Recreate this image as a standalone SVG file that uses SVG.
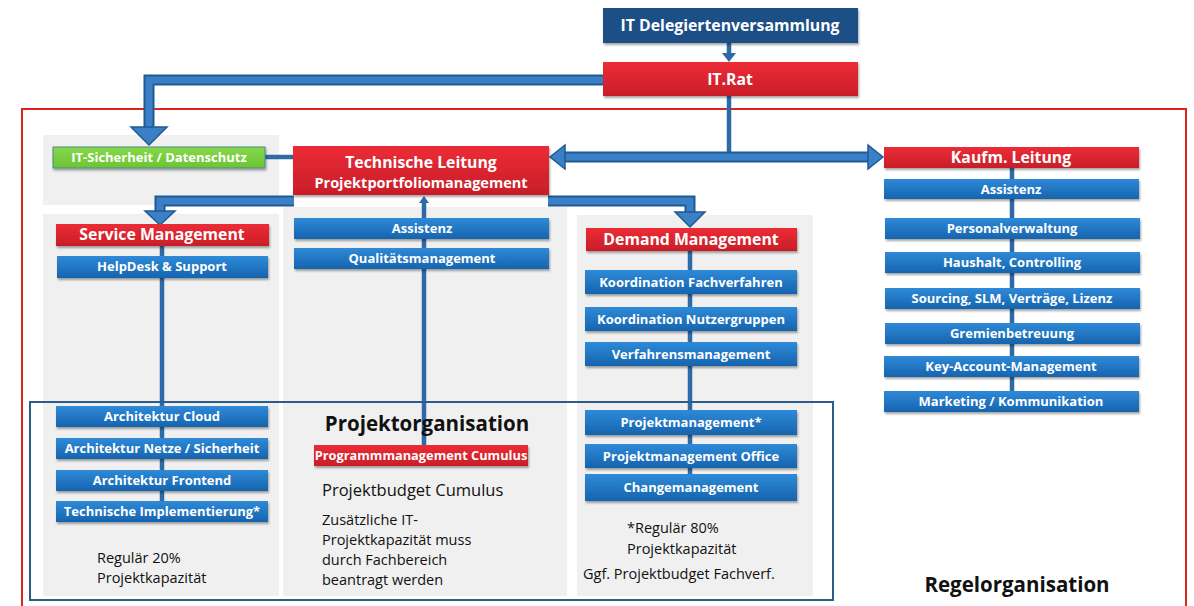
<svg xmlns="http://www.w3.org/2000/svg" width="1194" height="606" viewBox="0 0 1194 606">
<defs>
<linearGradient id="gb" x1="0" y1="0" x2="0" y2="1"><stop offset="0" stop-color="#2f8ad8"/><stop offset="1" stop-color="#1664ae"/></linearGradient>
<linearGradient id="gr" x1="0" y1="0" x2="0" y2="1"><stop offset="0" stop-color="#ec2c36"/><stop offset="1" stop-color="#c81e28"/></linearGradient>
<linearGradient id="gg" x1="0" y1="0" x2="0" y2="1"><stop offset="0" stop-color="#86d84a"/><stop offset="1" stop-color="#6cc433"/></linearGradient>
<filter id="sh" x="-5%" y="-20%" width="110%" height="150%"><feDropShadow dx="1" dy="2" stdDeviation="1.2" flood-color="#000" flood-opacity="0.35"/></filter>
</defs>
<style>
.panel{fill:#f0f0f0}
.bb{fill:url(#gb);filter:url(#sh)}
.rb{fill:url(#gr);filter:url(#sh)}
.t{font-family:"Open Sans","Noto Sans",sans-serif;font-weight:bold;fill:#fff;text-anchor:middle;font-size:13px}
.tl{font-size:15.8px}
.n{font-family:"Open Sans","Noto Sans",sans-serif;fill:#111;font-size:14.5px}
.h{font-family:"Open Sans","Noto Sans",sans-serif;font-weight:bold;fill:#111;font-size:20.5px;text-anchor:middle}
.thin{stroke:#2e6aa6;stroke-width:4.5;fill:none}
.fo{stroke:#1f5a94;stroke-width:11;fill:none}
.fi{stroke:#3b80c6;stroke-width:7;fill:none}
.ah{fill:#3b80c6;stroke:#1f5a94;stroke-width:1.5}
</style>
<rect x="0" y="0" width="1194" height="606" fill="#fff"/>

<g id="panels">
<rect class="panel" x="43" y="135" width="236" height="70"/>
<rect class="panel" x="43" y="214" width="236" height="382"/>
<rect class="panel" x="283" y="207" width="284" height="389"/>
<rect class="panel" x="577" y="215" width="236" height="381"/>
</g>

<rect id="regelorganisation-frame" x="22" y="109" width="1164" height="500" fill="none" stroke="#d9261c" stroke-width="2"/>

<g id="connectors">
<path class="thin" d="M729 96 V152"/>
<path class="thin" d="M162 245 V505"/>
<path class="thin" d="M424 200 V447"/>
<path class="thin" d="M690 250 V476"/>
<path class="thin" d="M1012 167 V393"/>
<path class="thin" d="M265 157 H295"/>
<path class="thin" d="M729 43 V54"/>
<polygon fill="#2e6aa6" points="722,53 736,53 729,62"/>
<polygon fill="#2e6aa6" points="419,203 429,203 424,196"/>
<path class="fo" d="M604 80 H149 V128"/>
<path class="fi" d="M604 80 H149 V128"/>
<polygon class="ah" points="131,127 167,127 149,145"/>
<path class="fo" d="M294 201 H160 V212"/>
<path class="fi" d="M294 201 H160 V212"/>
<polygon class="ah" points="145,211 175,211 160,225"/>
<path class="fo" d="M548 201 H690 V213"/>
<path class="fi" d="M548 201 H690 V213"/>
<polygon class="ah" points="675,212 705,212 690,227"/>
<path class="fo" d="M564 157 H869"/>
<path class="fi" d="M562 157 H871"/>
<polygon class="ah" points="565,145 565,169 550,157"/>
<polygon class="ah" points="868,145 868,169 883,157"/>
</g>

<rect id="projektorganisation-frame" x="30" y="402" width="803" height="198" fill="none" stroke="#2e5c8a" stroke-width="2"/>

<g id="it-delegiertenversammlung"><rect x="603" y="8" width="255" height="35" fill="#1a4f86" filter="url(#sh)"/><text class="t tl" x="730" y="31">IT Delegiertenversammlung</text></g>
<g id="it-rat"><rect class="rb" x="603" y="62" width="255" height="34"/><text class="t tl" x="730" y="85">IT.Rat</text></g>

<g id="it-sicherheit"><rect x="53" y="147" width="212" height="21" fill="url(#gg)" stroke="#4a8c8a" stroke-width="1" filter="url(#sh)"/><text class="t" x="159" y="162">IT-Sicherheit / Datenschutz</text></g>
<g id="technische-leitung"><rect class="rb" x="293" y="146" width="256" height="49"/><text class="t tl" x="421" y="168">Technische Leitung</text><text class="t" x="421" y="188" style="font-size:14.5px">Projektportfoliomanagement</text></g>
<g id="kaufm-leitung"><rect class="rb" x="884" y="147" width="255" height="21"/><text class="t tl" x="1011" y="163">Kaufm. Leitung</text></g>

<g id="service-management"><rect class="rb" x="56" y="224" width="213" height="22"/><text class="t tl" x="162" y="240">Service Management</text></g>
<g id="helpdesk"><rect class="bb" x="57" y="256" width="211" height="22"/><text class="t" x="162" y="271">HelpDesk &amp; Support</text></g>
<g id="assistenz-tl"><rect class="bb" x="294" y="218" width="255" height="21"/><text class="t" x="422" y="233">Assistenz</text></g>
<g id="qualitaetsmanagement"><rect class="bb" x="294" y="248" width="255" height="21"/><text class="t" x="422" y="263">Qualitätsmanagement</text></g>

<g id="demand-management"><rect class="rb" x="586" y="228" width="211" height="23"/><text class="t tl" x="691" y="245">Demand Management</text></g>
<g id="koordination-fachverfahren"><rect class="bb" x="585" y="270" width="212" height="24"/><text class="t" x="691" y="287">Koordination Fachverfahren</text></g>
<g id="koordination-nutzergruppen"><rect class="bb" x="585" y="307" width="212" height="24"/><text class="t" x="691" y="324">Koordination Nutzergruppen</text></g>
<g id="verfahrensmanagement"><rect class="bb" x="585" y="342" width="212" height="24"/><text class="t" x="691" y="359">Verfahrensmanagement</text></g>

<g id="assistenz-kl"><rect class="bb" x="884" y="179" width="255" height="20"/><text class="t" x="1011" y="194">Assistenz</text></g>
<g id="personalverwaltung"><rect class="bb" x="885" y="218" width="255" height="21"/><text class="t" x="1012" y="233">Personalverwaltung</text></g>
<g id="haushalt"><rect class="bb" x="885" y="252" width="255" height="21"/><text class="t" x="1012" y="267">Haushalt, Controlling</text></g>
<g id="sourcing"><rect class="bb" x="885" y="288" width="255" height="21"/><text class="t" x="1012" y="303">Sourcing, SLM, Verträge, Lizenz</text></g>
<g id="gremienbetreuung"><rect class="bb" x="885" y="323" width="255" height="21"/><text class="t" x="1012" y="338">Gremienbetreuung</text></g>
<g id="key-account"><rect class="bb" x="884" y="356" width="255" height="21"/><text class="t" x="1011" y="371">Key-Account-Management</text></g>
<g id="marketing"><rect class="bb" x="884" y="391" width="255" height="21"/><text class="t" x="1011" y="406">Marketing / Kommunikation</text></g>

<g id="architektur-cloud"><rect class="bb" x="56" y="406" width="212" height="21"/><text class="t" x="162" y="421">Architektur Cloud</text></g>
<g id="architektur-netze"><rect class="bb" x="56" y="438" width="212" height="21"/><text class="t" x="162" y="453">Architektur Netze / Sicherheit</text></g>
<g id="architektur-frontend"><rect class="bb" x="56" y="470" width="212" height="21"/><text class="t" x="162" y="485">Architektur Frontend</text></g>
<g id="technische-implementierung"><rect class="bb" x="56" y="501" width="212" height="21"/><text class="t" x="162" y="516">Technische Implementierung*</text></g>
<g id="note-20"><text class="n" x="97" y="563">Regulär 20%</text><text class="n" x="97" y="583">Projektkapazität</text></g>

<g id="projektorganisation-title"><text class="h" x="427" y="431">Projektorganisation</text></g>
<g id="programmmanagement"><rect class="rb" x="314" y="445" width="214" height="21"/><text class="t" x="421" y="460" style="font-size:12.8px">Programmmanagement Cumulus</text></g>
<g id="note-cumulus"><text class="n" x="322" y="496" style="font-size:16.5px">Projektbudget Cumulus</text>
<text class="n" x="322" y="525">Zusätzliche IT-</text><text class="n" x="322" y="545">Projektkapazität muss</text><text class="n" x="322" y="565">durch Fachbereich</text><text class="n" x="322" y="585">beantragt werden</text></g>

<g id="projektmanagement"><rect class="bb" x="585" y="410" width="212" height="25"/><text class="t" x="691" y="427">Projektmanagement*</text></g>
<g id="pmo"><rect class="bb" x="585" y="444" width="212" height="24"/><text class="t" x="691" y="461">Projektmanagement Office</text></g>
<g id="changemanagement"><rect class="bb" x="585" y="474" width="212" height="27"/><text class="t" x="691" y="492">Changemanagement</text></g>
<g id="note-80"><text class="n" x="627" y="533">*Regulär 80%</text><text class="n" x="627" y="554">Projektkapazität</text><text class="n" x="583" y="579">Ggf. Projektbudget Fachverf.</text></g>

<g id="regelorganisation-title"><text class="h" x="1017" y="592">Regelorganisation</text></g>
</svg>
